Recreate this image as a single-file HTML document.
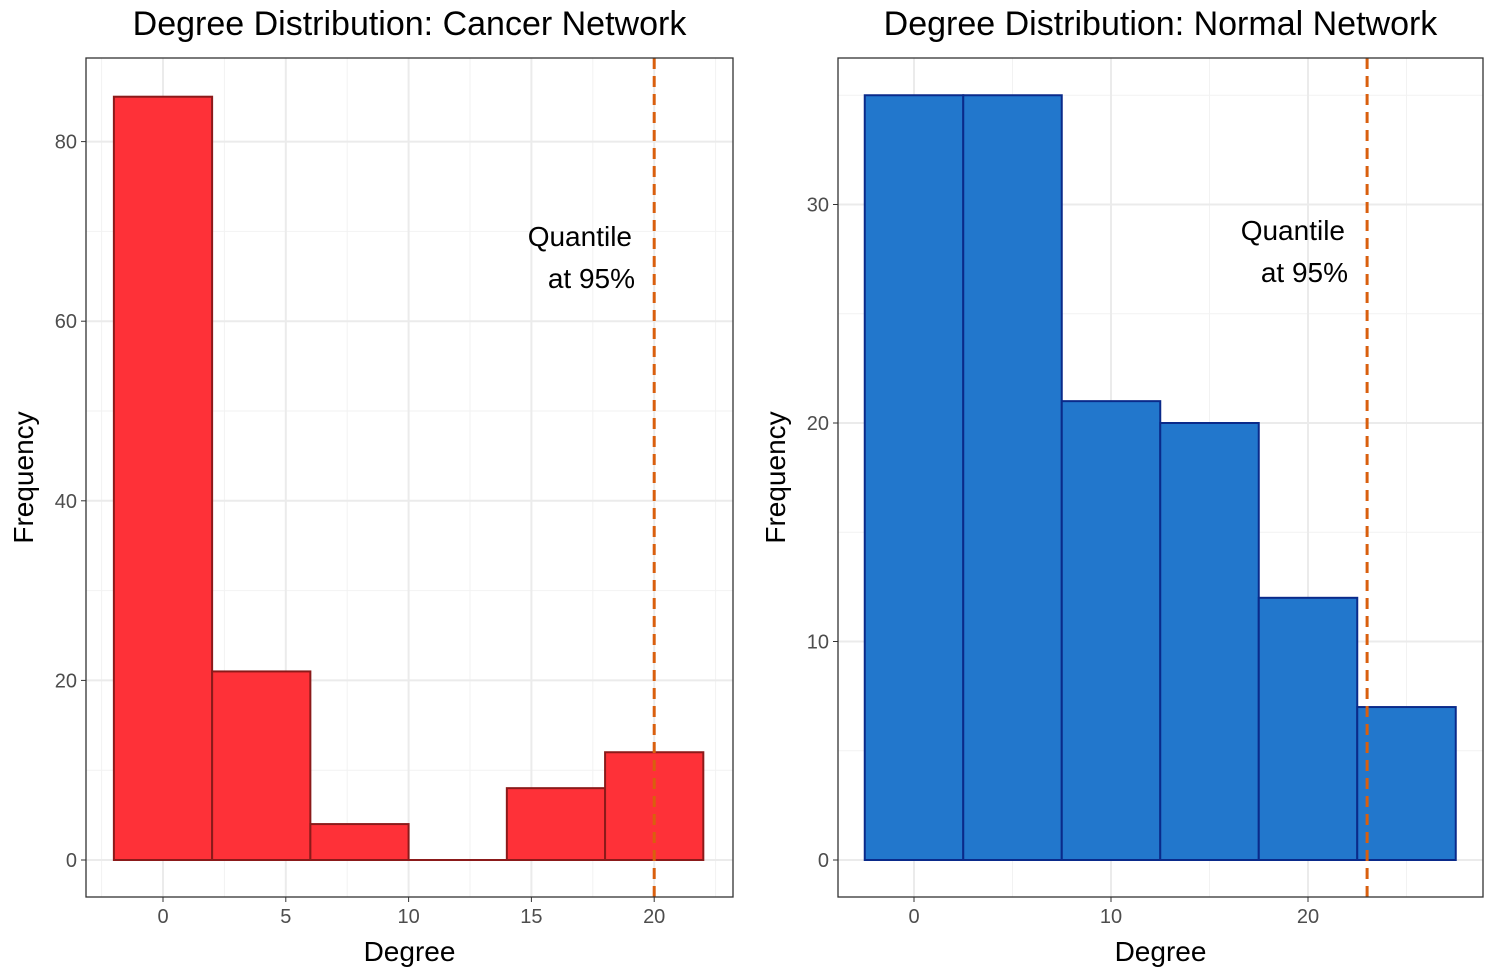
<!DOCTYPE html>
<html><head><meta charset="utf-8"><style>
body{margin:0;background:#fff;}
svg{display:block;font-family:"Liberation Sans",Arial,sans-serif;}
</style></head><body>
<svg id="chart" width="1494" height="976" viewBox="0 0 1494 976"></svg>
<script>
// Cancer panel data
const cancerBinStarts = [-2, 2, 6, 10, 14, 18];
const cancerCounts = [85, 21, 4, 0, 8, 12];
const cancerBinWidth = 4;
const cancerXTicks = [0, 5, 10, 15, 20];
const cancerYTicks = [0, 20, 40, 60, 80];
const cancerQuantile = 20;
// Normal panel data
const normalBinStarts = [-2.5, 2.5, 7.5, 12.5, 17.5, 22.5];
const normalCounts = [35, 35, 21, 20, 12, 7];
const normalBinWidth = 5;
const normalXTicks = [0, 10, 20];
const normalYTicks = [0, 10, 20, 30];
const normalQuantile = 23;

const NS = "http://www.w3.org/2000/svg";
const svg = document.getElementById('chart');
function mk(tag, attrs, parent, text) {
  const e = document.createElementNS(NS, tag);
  for (const k in attrs) e.setAttribute(k, attrs[k]);
  if (text !== undefined) e.textContent = text;
  (parent || svg).appendChild(e);
  return e;
}

function panel(cfg) {
  const g = mk('g', {});
  
  
  const {L, R, T, B} = cfg;
  const x = v => cfg.x0 + (v - cfg.xv0) * cfg.xs;
  const y = v => cfg.y0 - v * cfg.ys;
  for (let i = 0; i < cfg.xTicks.length + 1; i++) {
    const v = cfg.xTicks[0] + (i - 0.5) * (cfg.xTicks[1] - cfg.xTicks[0]);
    const px = x(v);
    if (px > L && px < R) mk('line', {x1: px, x2: px, y1: T, y2: B, stroke: '#f2f2f2', 'stroke-width': 1}, g);
  }
  for (let i = 0; i < cfg.yTicks.length + 1; i++) {
    const v = cfg.yTicks[0] + (i + 0.5) * (cfg.yTicks[1] - cfg.yTicks[0]);
    const py = y(v);
    if (py > T && py < B) mk('line', {x1: L, x2: R, y1: py, y2: py, stroke: '#f2f2f2', 'stroke-width': 1}, g);
  }
  cfg.xTicks.forEach(v => {
    mk('line', {x1: x(v), x2: x(v), y1: T, y2: B, stroke: '#ebebeb', 'stroke-width': 2}, g);
    mk('line', {x1: x(v), x2: x(v), y1: B, y2: B + 5, stroke: '#333', 'stroke-width': 1}, g);
    const t = mk('text', {x: x(v), y: B + 26, 'text-anchor': 'middle', 'font-size': 20, fill: '#4d4d4d'}, g, String(v));
    
    
  });
  cfg.yTicks.forEach(v => {
    mk('line', {x1: L, x2: R, y1: y(v), y2: y(v), stroke: '#ebebeb', 'stroke-width': 2}, g);
    mk('line', {x1: L - 5, x2: L, y1: y(v), y2: y(v), stroke: '#333', 'stroke-width': 1}, g);
    const t = mk('text', {x: L - 9, y: y(v) + 7, 'text-anchor': 'end', 'font-size': 20, fill: '#4d4d4d'}, g, String(v));
    
    
  });
  cfg.starts.forEach((s, i) => {
    const h = y(0) - y(cfg.counts[i]);
    if (h > 0) {
      const r = mk('rect', {x: x(s), y: y(cfg.counts[i]), width: x(s + cfg.bw) - x(s), height: h,
        fill: cfg.fill, stroke: cfg.stroke, 'stroke-width': 2}, g);
      
      
    } else {
      const r = mk('line', {x1: x(s), x2: x(s + cfg.bw), y1: y(0), y2: y(0), stroke: cfg.stroke, 'stroke-width': 2}, g);
      
      
    }
  });
  const q = mk('line', {x1: x(cfg.q), x2: x(cfg.q), y1: T, y2: B, stroke: '#d95f0e', 'stroke-width': 3, 'stroke-dasharray': '11,7'}, g);
  
  
  const a1 = mk('text', {x: cfg.annX, y: cfg.annY, 'text-anchor': 'end', 'font-size': 28, fill: '#000'}, g, 'Quantile');
  
  
  mk('text', {x: cfg.annX + 3, y: cfg.annY + 42, 'text-anchor': 'end', 'font-size': 28, fill: '#000'}, g, 'at 95%');
  mk('rect', {x: L, y: T, width: R - L, height: B - T, fill: 'none', stroke: '#333', 'stroke-width': 1.3}, g);
  const ti = mk('text', {x: (L + R) / 2, y: 35, 'text-anchor': 'middle', 'font-size': 34, fill: '#000'}, g, cfg.title);
  
  
  const xt = mk('text', {x: (L + R) / 2, y: 961, 'text-anchor': 'middle', 'font-size': 28, fill: '#000'}, g, 'Degree');
  
  
  const yt = mk('text', {x: 0, y: 0, 'text-anchor': 'middle', 'font-size': 28, fill: '#000',
    transform: `translate(${cfg.ytX},${(T + B) / 2}) rotate(-90)`}, g, 'Frequency');
  
  
}

panel({name: 'cancer-panel', L: 86, R: 733, T: 58, B: 897, x0: 163, xv0: 0, xs: 24.56, y0: 860, ys: 8.98,
  xTicks: cancerXTicks, yTicks: cancerYTicks, starts: cancerBinStarts, counts: cancerCounts, bw: cancerBinWidth,
  q: cancerQuantile, fill: '#fe3138', stroke: '#8b1a1a', annX: 632, annY: 246, title: 'Degree Distribution: Cancer Network', ytX: 33});
panel({name: 'normal-panel', L: 838, R: 1483, T: 58, B: 897, x0: 914, xv0: 0, xs: 19.7, y0: 860, ys: 21.85,
  xTicks: normalXTicks, yTicks: normalYTicks, starts: normalBinStarts, counts: normalCounts, bw: normalBinWidth,
  q: normalQuantile, fill: '#2277cc', stroke: '#0a2a8a', annX: 1345, annY: 240, title: 'Degree Distribution: Normal Network', ytX: 785});
</script>
</body></html>
